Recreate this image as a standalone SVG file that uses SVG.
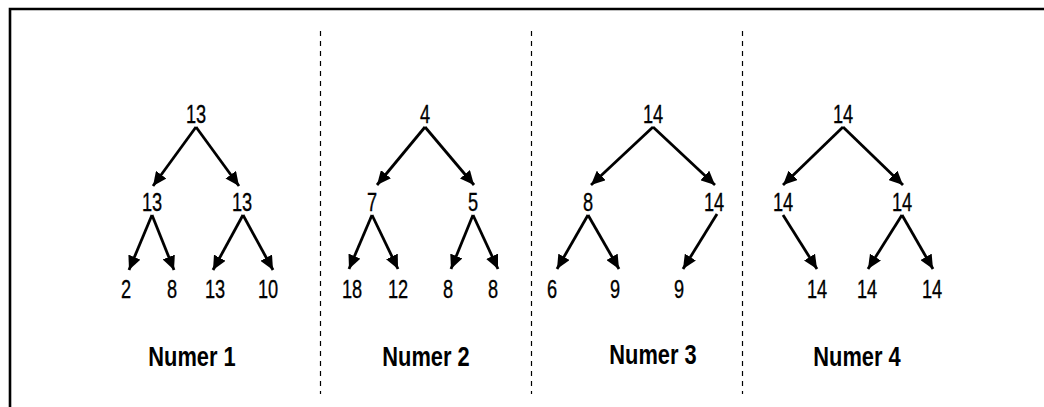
<svg xmlns="http://www.w3.org/2000/svg" width="1044" height="407" viewBox="0 0 1044 407">
<style>
.n{font-family:"Liberation Sans",Arial,sans-serif;font-size:26px;text-anchor:middle;fill:#000;stroke:#000;stroke-width:0.35}
.t{font-family:"Liberation Sans",Arial,sans-serif;font-size:28px;font-weight:bold;text-anchor:middle;fill:#000}
.a{stroke:#000;stroke-width:2.8;fill:none;marker-end:url(#ah)}
.d{stroke:#000;stroke-width:1.2;stroke-dasharray:5 5;fill:none}
</style>
<defs>
<marker id="ah" markerUnits="userSpaceOnUse" markerWidth="15" markerHeight="13" refX="14" refY="6.5" orient="auto">
<path d="M0,0 L14,6.5 L0,13 Z" fill="#000"/>
</marker>
</defs>
<rect width="1044" height="407" fill="#fff"/>
<path d="M10,407 V9 H1044" stroke="#000" stroke-width="2.6" fill="none"/>
<g id="dividers">
<line class="d" x1="320.5" y1="31" x2="320.5" y2="394"/>
<line class="d" x1="531.5" y1="31" x2="531.5" y2="394"/>
<line class="d" x1="742.5" y1="31" x2="742.5" y2="394"/>
</g>
<g id="connectors">
<line class="a" x1="196" y1="127" x2="153" y2="186"/>
<line class="a" x1="196" y1="127" x2="239" y2="186"/>
<line class="a" x1="152" y1="215" x2="129" y2="270"/>
<line class="a" x1="152" y1="215" x2="174" y2="270"/>
<line class="a" x1="243" y1="215" x2="213" y2="270"/>
<line class="a" x1="243" y1="215" x2="273" y2="270"/>
<line class="a" x1="425" y1="127" x2="377" y2="185"/>
<line class="a" x1="425" y1="127" x2="474" y2="185"/>
<line class="a" x1="372" y1="215" x2="349" y2="269"/>
<line class="a" x1="372" y1="215" x2="398" y2="269"/>
<line class="a" x1="473" y1="215" x2="451" y2="269"/>
<line class="a" x1="473" y1="215" x2="498" y2="269"/>
<line class="a" x1="653" y1="127" x2="591" y2="185"/>
<line class="a" x1="653" y1="127" x2="715" y2="185"/>
<line class="a" x1="588" y1="215" x2="557" y2="269"/>
<line class="a" x1="588" y1="215" x2="619" y2="269"/>
<line class="a" x1="717" y1="214" x2="683" y2="269"/>
<line class="a" x1="843" y1="127" x2="783" y2="185"/>
<line class="a" x1="843" y1="127" x2="903" y2="185"/>
<line class="a" x1="783" y1="215" x2="817" y2="269"/>
<line class="a" x1="902" y1="215" x2="868" y2="269"/>
<line class="a" x1="902" y1="215" x2="933" y2="269"/>
</g>
<g id="tree1">
<text class="n" transform="translate(196,123) scale(0.7,1)">13</text>
<text class="n" transform="translate(152,211) scale(0.7,1)">13</text>
<text class="n" transform="translate(242,211) scale(0.7,1)">13</text>
<text class="n" transform="translate(126,298) scale(0.7,1)">2</text>
<text class="n" transform="translate(172,298) scale(0.7,1)">8</text>
<text class="n" transform="translate(215,298) scale(0.7,1)">13</text>
<text class="n" transform="translate(268,298) scale(0.7,1)">10</text>
<text class="t" transform="translate(192,366) scale(0.78,1)">Numer 1</text>
</g>
<g id="tree2">
<text class="n" transform="translate(425,123) scale(0.7,1)">4</text>
<text class="n" transform="translate(372,211) scale(0.7,1)">7</text>
<text class="n" transform="translate(473,211) scale(0.7,1)">5</text>
<text class="n" transform="translate(352,298) scale(0.7,1)">18</text>
<text class="n" transform="translate(398,298) scale(0.7,1)">12</text>
<text class="n" transform="translate(448,298) scale(0.7,1)">8</text>
<text class="n" transform="translate(493,298) scale(0.7,1)">8</text>
<text class="t" transform="translate(426,366) scale(0.78,1)">Numer 2</text>
</g>
<g id="tree3">
<text class="n" transform="translate(653,123) scale(0.7,1)">14</text>
<text class="n" transform="translate(588,211) scale(0.7,1)">8</text>
<text class="n" transform="translate(714,211) scale(0.7,1)">14</text>
<text class="n" transform="translate(552,298) scale(0.7,1)">6</text>
<text class="n" transform="translate(615,298) scale(0.7,1)">9</text>
<text class="n" transform="translate(679,298) scale(0.7,1)">9</text>
<text class="t" transform="translate(653,364) scale(0.78,1)">Numer 3</text>
</g>
<g id="tree4">
<text class="n" transform="translate(843,123) scale(0.7,1)">14</text>
<text class="n" transform="translate(783,211) scale(0.7,1)">14</text>
<text class="n" transform="translate(902,211) scale(0.7,1)">14</text>
<text class="n" transform="translate(817,298) scale(0.7,1)">14</text>
<text class="n" transform="translate(867,298) scale(0.7,1)">14</text>
<text class="n" transform="translate(932,298) scale(0.7,1)">14</text>
<text class="t" transform="translate(857,366) scale(0.78,1)">Numer 4</text>
</g>
</svg>
